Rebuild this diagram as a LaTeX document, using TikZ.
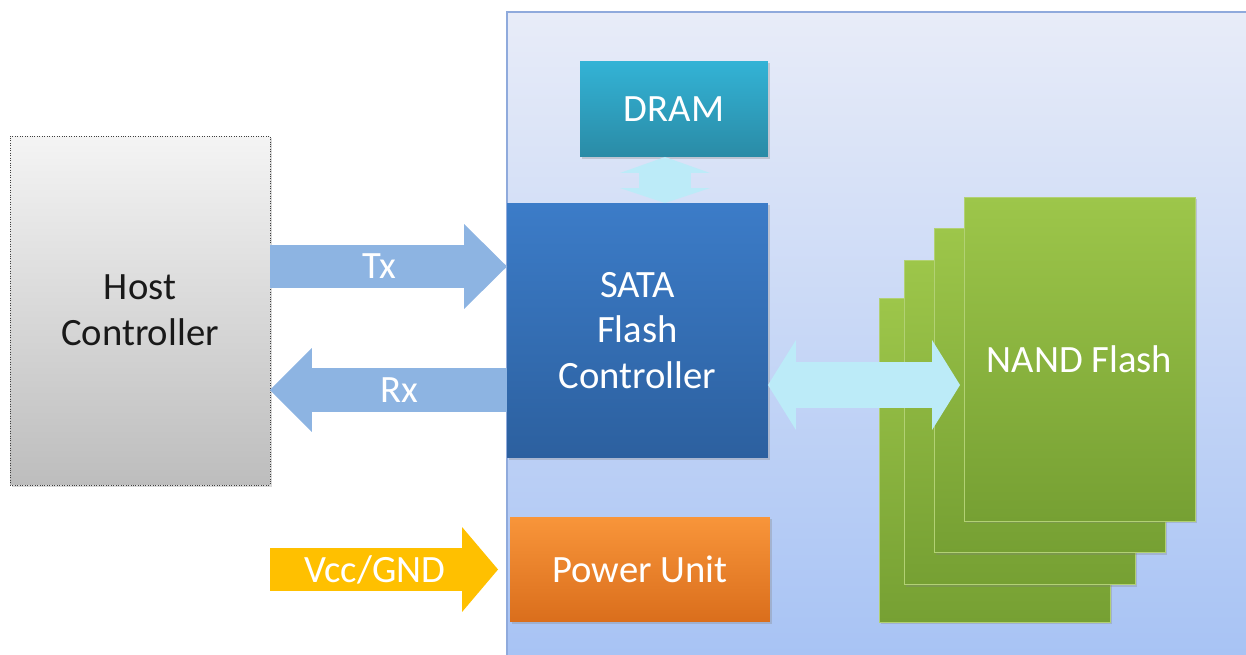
\documentclass[tikz,border=0pt]{standalone}
\usepackage{fontspec}
\setmainfont{Carlito}
\usetikzlibrary{arrows.meta,shadows,calc}

\definecolor{hosttop}{HTML}{F4F4F4}
\definecolor{hostbot}{HTML}{BDBDBD}
\definecolor{paneltop}{HTML}{E8ECF8}
\definecolor{panelbot}{HTML}{A6C2F4}
\definecolor{panelline}{HTML}{8FAADC}
\definecolor{dramtop}{HTML}{33B3D6}
\definecolor{drambot}{HTML}{2A8BA6}
\definecolor{satatop}{HTML}{3C7CC8}
\definecolor{satabot}{HTML}{2C609F}
\definecolor{pwrtop}{HTML}{F8953A}
\definecolor{pwrbot}{HTML}{DA6E1C}
\definecolor{nandtop}{HTML}{9DC64A}
\definecolor{nandbot}{HTML}{76A033}
\definecolor{nandedge}{HTML}{B2D174}
\definecolor{hostbus}{HTML}{8DB4E2}
\definecolor{pwrbus}{HTML}{FFC000}
\definecolor{cyanbus}{HTML}{BCEBF8}

\begin{document}
\begin{tikzpicture}[
  x=0.02cm, y=-0.02cm,
  every node/.style={font=\fontsize{22}{26}\selectfont,outer sep=0pt},
  block/.style={rectangle,align=center,text=white,inner sep=2pt,
    drop shadow={opacity=0.3,shadow xshift=1.2pt,shadow yshift=-1.2pt}},
  chip/.style={block,minimum width=4.62cm,minimum height=6.48cm,
    top color=nandtop,bottom color=nandbot,draw=nandedge,line width=0.4pt},
  bus/.style={draw=#1,line cap=butt},
  busname/.style={text=white}
]
\clip (0,0) rectangle (1246,655);
% SSD panel
\fill[top color=paneltop,bottom color=panelbot] (507,12) rectangle (1262,672);
\draw[panelline,line width=0.8pt] (507,672) -- (507,12) -- (1262,12);

% host side
\node[block,minimum width=5.2cm,minimum height=6.98cm,top color=hosttop,
  bottom color=hostbot,draw=gray!50!black,densely dotted,text=black!90]
  (host) at (140,310.5) {Host\\Controller};

% drive blocks
\node[block,minimum width=3.76cm,minimum height=1.92cm,top color=dramtop,
  bottom color=drambot] (dram) at (674,109) {DRAM};
\node[block,minimum width=5.22cm,minimum height=5.1cm,top color=satatop,
  bottom color=satabot] (sata) at (637.5,330.5) {SATA\\Flash\\Controller};
\node[block,minimum width=5.2cm,minimum height=2.1cm,top color=pwrtop,
  bottom color=pwrbot] (power) at (640,569.5) {Power Unit};

% NAND stack, back to front
\foreach \i/\x/\y in {4/994.5/460,3/1019.5/422.5,2/1049.5/390.5}
  \node[chip] (n\i) at (\x,\y) {};
\node[chip] (n1) at (1079.5,359) {NAND Flash};

% buses
\coordinate (dbus) at (665,0);
\coordinate (tx) at (0,266.5);
\coordinate (rx) at (0,390);
\coordinate (vcc) at (270,569.5);
\coordinate (nbus) at (0,385);

\draw[bus=cyanbus,line width=1.04cm,
  {Triangle[length=0.32cm,width=1.8cm,line width=0pt]}-{Triangle[length=0.3cm,width=1.8cm,line width=0pt]}]
  (dram.south -| dbus) -- (sata.north -| dbus);
\draw[bus=hostbus,line width=0.86cm,-{Triangle[length=0.86cm,width=1.7cm,line width=0pt]}]
  (host.east |- tx) -- node[pos=0.46,busname] {Tx} (sata.west |- tx);
\draw[bus=hostbus,line width=0.88cm,-{Triangle[length=0.84cm,width=1.68cm,line width=0pt]}]
  (sata.west |- rx) -- node[pos=0.455,busname] {Rx} (host.east |- rx);
\draw[bus=pwrbus,line width=0.86cm,-{Triangle[length=0.72cm,width=1.7cm,line width=0pt]}]
  (vcc) -- node[pos=0.46,busname] {Vcc/GND} ($(power.west |- vcc)+(-12,0)$);
\draw[bus=cyanbus,line width=0.92cm,
  {Triangle[length=0.56cm,width=1.8cm,line width=0pt]}-{Triangle[length=0.56cm,width=1.8cm,line width=0pt]}]
  (sata.east |- nbus) -- ($(n1.west |- nbus)+(-4,0)$);
\end{tikzpicture}
\end{document}
